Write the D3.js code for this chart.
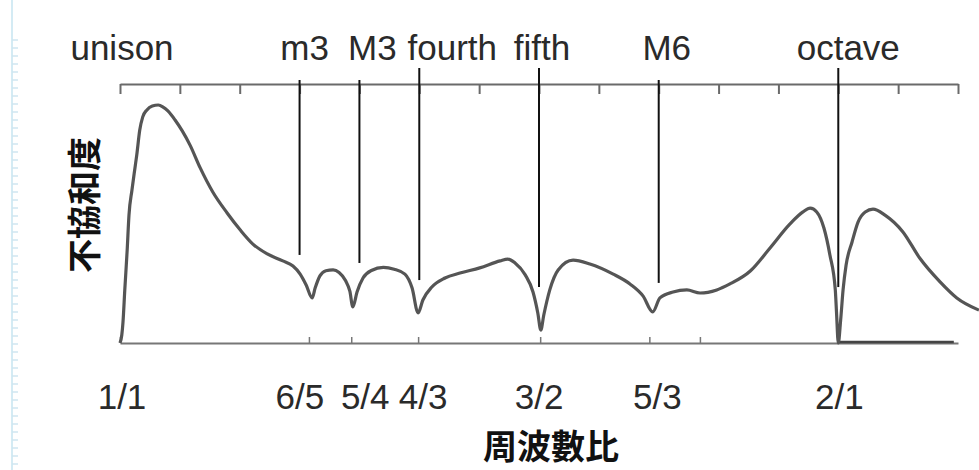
<!DOCTYPE html>
<html>
<head>
<meta charset="utf-8">
<script src="https://cdn.jsdelivr.net/npm/d3@7"></script>
<style>
  body { margin: 0; background: #fff; }
  text { font-family: "Liberation Sans", Arial, sans-serif; }
</style>
</head>
<body>
<div id="my_dataviz"></div>
<script>
// dissonance curve (x in cents above 1/1, y = relative dissonance)
var curveCents = [0, 3, 5, 8, 12, 15, 20, 25, 28, 33, 38, 45, 54, 64, 72, 80, 92, 104, 117, 134,
  155, 179, 201, 222, 246, 272, 289, 301, 311, 321, 326, 334, 344, 356, 366, 377, 384, 389, 396, 406,
  420, 440, 458, 476, 488, 498, 506, 521, 543, 568, 601, 635, 648, 660, 677, 690, 698, 703, 708, 718,
  732, 757, 785, 824, 852, 874, 890, 902, 924, 947, 969, 997, 1019, 1053, 1086, 1119, 1141, 1153,
  1164, 1176, 1186, 1195, 1197, 1200, 1204, 1208, 1213, 1223, 1233, 1245, 1258, 1278, 1308, 1336,
  1370, 1398, 1435];
var curveDiss = [0, .031, .081, .205, .359, .494, .591, .676, .726, .822, .873, .900, .915, .919, .911,
  .896, .861, .819, .764, .676, .583, .502, .436, .382, .344, .317, .297, .266, .224, .174, .212, .259,
  .279, .282, .272, .240, .200, .139, .197, .251, .280, .292, .285, .266, .212, .116, .166, .216, .251,
  .270, .290, .317, .324, .309, .263, .197, .116, .050, .108, .205, .282, .320, .305, .266, .228, .181,
  .120, .174, .197, .205, .193, .205, .228, .278, .367, .459, .506, .521, .506, .444, .340, .205, .120,
  0, .090, .205, .300, .390, .467, .506, .517, .494, .429, .328, .236, .174, .127];

// intervals named along the top (equal tempered positions, cents)
var topNames = ["unison", "m3", "M3", "fourth", "fifth", "M6", "octave"];
var topCents = [0, 300, 400, 500, 700, 900, 1200];

// just ratios along the bottom
var ratioNames = ["1/1", "6/5", "5/4", "4/3", "3/2", "5/3", "7/4", "2/1"];
var ratioValues = [1, 6/5, 5/4, 4/3, 3/2, 5/3, 7/4, 2];
var ratioShown = [true, true, true, true, true, true, false, true];

var width = 979, height = 470;

var svg = d3.select("#my_dataviz")
  .append("svg")
    .attr("width", width)
    .attr("height", height);

svg.append("rect").attr("width", width).attr("height", height).attr("fill", "#fff");

// notebook margin on the left
svg.append("line").attr("x1", 12).attr("x2", 12).attr("y1", 0).attr("y2", height)
  .attr("stroke", "#d4ebf4").attr("stroke-width", 2);
svg.selectAll(".dash")
  .data(d3.range(40, height, 8))
  .enter().append("line")
    .attr("x1", 12).attr("x2", 18)
    .attr("y1", function(d) { return d; }).attr("y2", function(d) { return d; })
    .attr("stroke", "#cfe6f0").attr("stroke-width", 1.5);

var x = d3.scaleLinear().domain([0, 1400]).range([120, 958]);
var y = d3.scaleLinear().domain([0, 1]).range([343, 84]);

function cents(r) { return 1200 * Math.log2(r); }

// top axis: one tick per semitone
var topAxis = svg.append("g")
  .attr("transform", "translate(0," + y(1) + ")")
  .call(d3.axisBottom(x).tickValues(d3.range(0, 1401, 100)).tickSize(10).tickSizeOuter(0).tickFormat(""));
topAxis.select(".domain").attr("stroke", "#6a6a6a").attr("stroke-width", 2);
topAxis.selectAll(".tick line").attr("stroke", "#6a6a6a").attr("stroke-width", 2);

// bottom axis: ticks at the just ratios
var bottomAxis = svg.append("g")
  .attr("transform", "translate(0," + y(0) + ")")
  .call(d3.axisTop(x).tickValues(ratioValues.map(cents)).tickSize(6).tickSizeOuter(0).tickFormat(""));
bottomAxis.select(".domain").attr("stroke", "#777").attr("stroke-width", 2);
bottomAxis.selectAll(".tick line").attr("stroke", "#777").attr("stroke-width", 1.5);

svg.append("line")
  .attr("x1", x(1200)).attr("x2", x(1393))
  .attr("y1", y(0) - 1).attr("y2", y(0) - 1)
  .attr("stroke", "#444").attr("stroke-width", 2.5);

// interval markers: perfect ones stick up above the axis
var lineTop = [0, 80, 80, 68, 68, 80, 68];
var lineBottom = [0, .340, .309, .243, .216, .232, .216];
svg.selectAll(".marker")
  .data(topCents.slice(1))
  .enter().append("line")
    .attr("class", "marker")
    .attr("x1", function(d) { return x(d); })
    .attr("x2", function(d) { return x(d); })
    .attr("y1", function(d, i) { return lineTop[i + 1]; })
    .attr("y2", function(d, i) { return y(lineBottom[i + 1]); })
    .attr("stroke", "#111")
    .attr("stroke-width", 2);

// the curve
var pts = curveCents.map(function(c, i) { return [c, curveDiss[i]]; });
svg.append("path")
  .datum(pts)
  .attr("fill", "none")
  .attr("stroke", "#555")
  .attr("stroke-width", 3.2)
  .attr("stroke-linejoin", "round")
  .attr("d", d3.line()
    .curve(d3.curveMonotoneX)
    .x(function(d) { return x(d[0]); })
    .y(function(d) { return y(d[1]); }));

// labels
var topDx = [2, 5, 13, 33, 3, 8, 10];
svg.selectAll(".toplab")
  .data(topNames)
  .enter().append("text")
    .attr("x", function(d, i) { return x(topCents[i]) + topDx[i]; })
    .attr("y", 60)
    .attr("text-anchor", "middle")
    .style("font-size", "35px")
    .style("fill", "#2a2a2a")
    .text(function(d) { return d; });

var botDx = [2, -9, 14, 5, -1, 8, 0, 1];
svg.selectAll(".botlab")
  .data(ratioNames.filter(function(d, i) { return ratioShown[i]; }))
  .enter().append("text")
    .attr("x", function(d) { var i = ratioNames.indexOf(d); return x(cents(ratioValues[i])) + botDx[i]; })
    .attr("y", 409)
    .attr("text-anchor", "middle")
    .style("font-size", "35px")
    .style("fill", "#2a2a2a")
    .text(function(d) { return d; });

svg.append("text")
  .attr("transform", "translate(97,205) rotate(-90)")
  .attr("text-anchor", "middle")
  .style("font-family", "'Noto Sans CJK JP', 'Noto Sans CJK TC', sans-serif")
  .style("font-weight", "bold")
  .style("font-size", "34px")
  .style("fill", "#111")
  .text("不協和度");

svg.append("text")
  .attr("x", 551).attr("y", 459)
  .attr("text-anchor", "middle")
  .style("font-family", "'Noto Sans CJK JP', 'Noto Sans CJK TC', sans-serif")
  .style("font-weight", "bold")
  .style("font-size", "34px")
  .style("fill", "#111")
  .text("周波數比");
</script>
</body>
</html>
